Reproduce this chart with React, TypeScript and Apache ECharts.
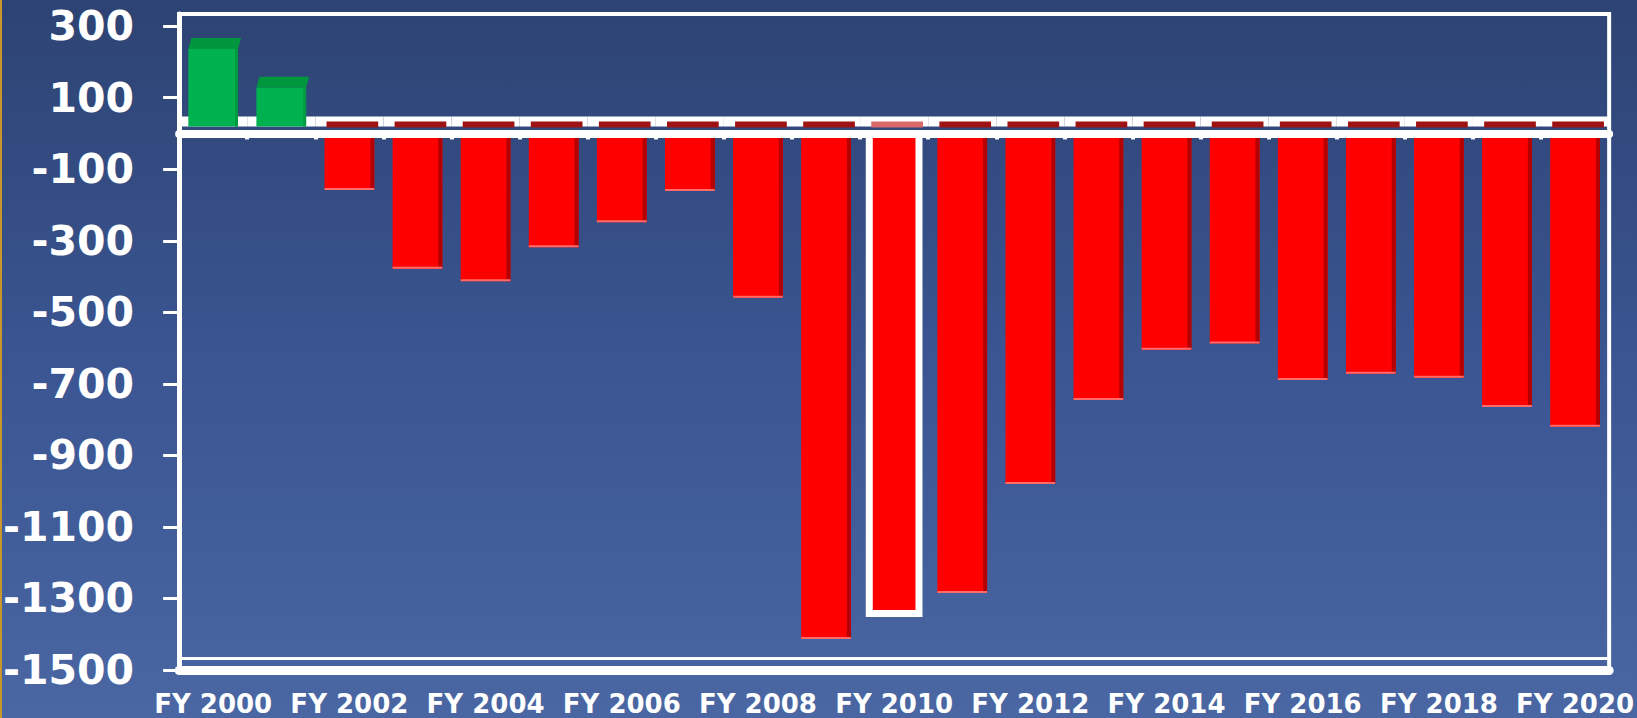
import React, { useEffect, useRef } from "react";
import * as echarts from "echarts";

const categories = [
  "FY 2000", "FY 2001", "FY 2002", "FY 2003", "FY 2004", "FY 2005", "FY 2006",
  "FY 2007", "FY 2008", "FY 2009", "FY 2010", "FY 2011", "FY 2012", "FY 2013",
  "FY 2014", "FY 2015", "FY 2016", "FY 2017", "FY 2018", "FY 2019", "FY 2020",
];
const deficits = [
  236, 128, -158, -378, -413, -318, -248, -161, -459, -1413, -1342, -1285,
  -980, -745, -605, -587, -689, -672, -683, -765, -820,
];
const yTicks = [-1500, -1300, -1100, -900, -700, -500, -300, -100, 100, 300];
const highlighted = "FY 2010";
const yMin = -1500;
const yMax = 334;
const floorLineValue = -1466;

const FONT = "'DejaVu Sans', sans-serif";

export default function App() {
  const ref = useRef<HTMLDivElement>(null);
  useEffect(() => {
    if (!ref.current) return;
    const chart = echarts.init(ref.current, null, { renderer: "svg" });
    const option: any = {
      animation: false,
      backgroundColor: {
        type: "linear", x: 0, y: 0, x2: 0, y2: 1,
        colorStops: [
          { offset: 0, color: "#2d4373" },
          { offset: 0.5, color: "#3a5591" },
          { offset: 1, color: "#4a67a3" },
        ],
      },
      graphic: [
        { type: "rect", left: 0, top: 0, shape: { width: 2, height: 718 }, style: { fill: "#c8962a" } },
      ],
      grid: {
        left: 178, right: 25, top: 14, bottom: 48,
        show: true, borderColor: "#ffffff", borderWidth: 4,
        backgroundColor: "transparent",
        containLabel: false,
      },
      xAxis: [
        {
          type: "category",
          data: categories,
          position: "bottom",
          axisLine: { onZero: false, lineStyle: { color: "#ffffff", width: 9 } },
          axisTick: { show: false },
          axisLabel: {
            interval: 1,
            color: "#ffffff",
            fontFamily: FONT,
            fontWeight: "bold",
            fontSize: 26,
            margin: 21,
          },
          splitLine: { show: false },
        },
        {
          type: "category",
          data: categories,
          position: "bottom",
          z: 10,
          axisLine: { onZero: true, lineStyle: { color: "#ffffff", width: 8 } },
          axisTick: { show: true, length: 6, lineStyle: { color: "#ffffff", width: 4 } },
          axisLabel: { show: false },
          splitLine: { show: false },
        },
      ],
      yAxis: {
        type: "value",
        min: yMin,
        max: yMax,
        axisLine: { show: true, lineStyle: { color: "#ffffff", width: 5 } },
        axisTick: { show: true, length: 16, customValues: yTicks, lineStyle: { color: "#ffffff", width: 3 } },
        axisLabel: {
          customValues: yTicks,
          formatter: (v: number) => String(v),
          color: "#ffffff",
          fontFamily: FONT,
          fontWeight: "bold",
          fontSize: 41,
          margin: 45,
        },
        splitLine: { show: false },
      },
      series: [
        {
          type: "custom",
          xAxisIndex: 0,
          yAxisIndex: 0,
          z: 2,
          data: deficits.map((v, i) => [i, v]),
          renderItem: (params: any, api: any) => {
            const i = api.value(0);
            const v = api.value(1);
            const c0 = api.coord([i, 0]);
            const cv = api.coord([i, v]);
            const catW = api.size([1, 0])[0];
            const cx = c0[0];
            const y0 = c0[1];
            const yv = cv[1];
            const w = catW * 0.73;
            const x = cx - w / 2;
            const children: any[] = [];
            // back edge of the 3D floor at zero
            children.push({
              type: "rect",
              shape: { x: cx - catW / 2, y: y0 - 17, width: catW, height: 10 },
              style: { fill: "#ffffff" },
            });
            if (v >= 0) {
              const bottom = y0 - 7;
              children.push({
                type: "polygon",
                shape: { points: [[x, yv], [x + 3, yv - 11], [x + w + 3, yv - 11], [x + w, yv]] },
                style: { fill: "#00963d" },
              });
              children.push({
                type: "rect",
                shape: { x, y: yv, width: w, height: bottom - yv },
                style: { fill: "#00b24f" },
              });
              children.push({
                type: "rect",
                shape: { x: x + w - 3, y: yv, width: 3, height: bottom - yv },
                style: { fill: "#009a42" },
              });
            } else {
              const isHi = categories[i] === highlighted;
              children.push({
                type: "rect",
                shape: { x: x + 2, y: y0 - 12, width: w + 2, height: 6 },
                style: { fill: isHi ? "#d86a6a" : "#9e1414" },
              });
              children.push({
                type: "rect",
                shape: { x, y: y0, width: w, height: yv - y0 },
                style: { fill: "#ff0000" },
              });
              if (!isHi) {
                children.push({
                  type: "rect",
                  shape: { x: x + w - 4, y: y0, width: 4, height: yv - y0 },
                  style: { fill: "#b30000" },
                });
                children.push({
                  type: "rect",
                  shape: { x, y: yv - 2, width: w, height: 2 },
                  style: { fill: "#ff6a6a" },
                });
              } else {
                children.push({
                  type: "rect",
                  shape: { x, y: y0, width: w, height: yv - y0 },
                  style: { fill: "none", stroke: "#ffffff", lineWidth: 7 },
                });
              }
            }
            return { type: "group", children };
          },
          markLine: {
            silent: true,
            symbol: "none",
            label: { show: false },
            lineStyle: { color: "#ffffff", width: 3, type: "solid" },
            data: [{ yAxis: floorLineValue }],
          },
        },
      ],
    };
    chart.setOption(option);
    return () => chart.dispose();
  }, []);
  return (
    <div
      ref={ref}
      style={{ position: "fixed", left: 0, top: 0, width: 1637, height: 718 }}
    />
  );
}
